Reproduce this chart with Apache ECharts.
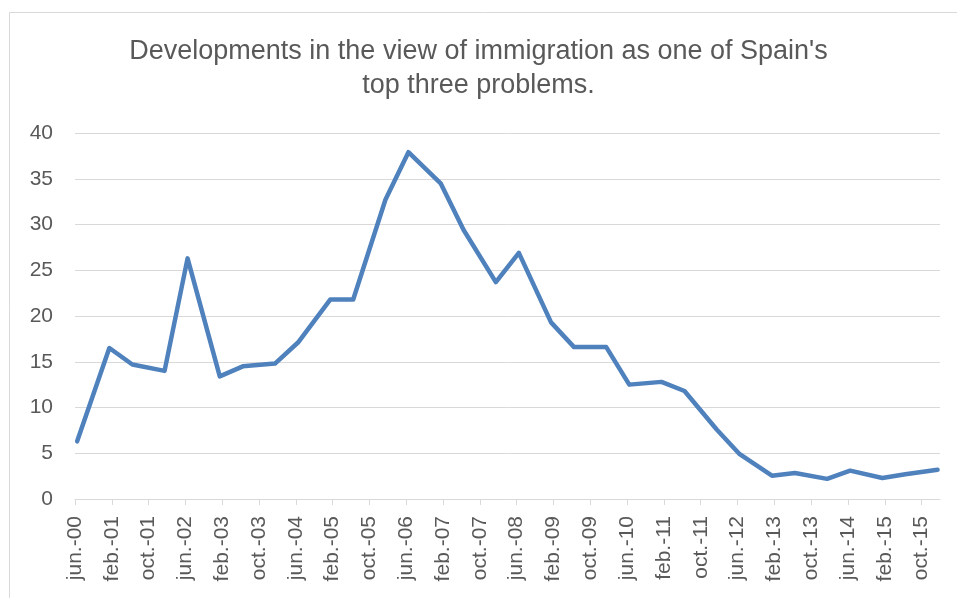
<!DOCTYPE html>
<html>
<head>
<meta charset="utf-8">
<script src="https://cdn.jsdelivr.net/npm/echarts@6/dist/echarts.min.js"></script>
<style>
html,body{margin:0;padding:0;background:#fff;}
#chart{width:957px;height:598px;}
</style>
</head>
<body>
<div id="chart"></div>
<script>
// Survey dates (mid-month) and share naming immigration as a top-3 problem (%)
const dates = [
  '2000-06-15','2001-01-15','2001-06-15','2002-01-15','2002-06-15','2003-01-15','2003-06-15','2004-01-15',
  '2004-06-15','2005-01-15','2005-06-15','2006-01-15','2006-06-15','2007-01-15','2007-06-15','2008-01-15',
  '2008-06-15','2009-01-15','2009-06-15','2010-01-15','2010-06-15','2011-01-15','2011-06-15','2012-01-15',
  '2012-06-15','2013-01-15','2013-06-15','2014-01-15','2014-06-15','2015-01-15','2015-06-15','2016-01-15'
];
const values = [
  6.3, 16.5, 14.7, 14.0, 26.3, 13.4, 14.5, 14.8,
  17.1, 21.8, 21.8, 32.7, 37.9, 34.5, 29.4, 23.7,
  26.9, 19.3, 16.6, 16.6, 12.5, 12.8, 11.8, 7.6,
  4.9, 2.55, 2.85, 2.2, 3.1, 2.3, 2.7, 3.2
];
const tickLabels = [
  'jun.-00','feb.-01','oct.-01','jun.-02','feb.-03','oct.-03','jun.-04','feb.-05',
  'oct.-05','jun.-06','feb.-07','oct.-07','jun.-08','feb.-09','oct.-09','jun.-10',
  'feb.-11','oct.-11','jun.-12','feb.-13','oct.-13','jun.-14','feb.-15','oct.-15'
];
const titleLines = ["Developments in the view of immigration as one of Spain's", "top three problems."];

// months since June 2000
function monthIndex(d) {
  const [y, m, day] = d.split('-').map(Number);
  return (y - 2000) * 12 + (m - 6) + (day - 1) / 30;
}
const TICK_STEP = 8;
const tickValues = tickLabels.map((_, i) => i * TICK_STEP);
const seriesData = dates.map((d, i) => [monthIndex(d), values[i]]);

const chart = echarts.init(document.getElementById('chart'), null, {renderer: 'canvas'});
const textColor = '#595959';
const gridColor = '#d9d9d9';
const titleStyle = {
  fontFamily: 'Liberation Sans', fontSize: 27, fontWeight: 'normal',
  color: textColor, lineHeight: 34
};
chart.setOption({
  backgroundColor: '#ffffff',
  animation: false,
  graphic: [{
    type: 'rect',
    shape: {x: 9.5, y: 12.5, width: 1000, height: 1000},
    style: {fill: 'none', stroke: gridColor, lineWidth: 1},
    silent: true, z: -1
  }],
  title: titleLines.map((t, i) => ({
    text: t,
    left: 'center',
    top: 35 + i * 34,
    padding: 0,
    textStyle: titleStyle
  })),
  grid: {left: 75, right: 17, top: 133, height: 366, containLabel: false},
  xAxis: {
    type: 'value',
    min: 0, max: 188,
    splitLine: {show: false},
    axisLine: {show: true, lineStyle: {color: gridColor, width: 1}},
    axisTick: {show: true, length: 6, lineStyle: {color: gridColor}, customValues: tickValues},
    axisLabel: {
      customValues: tickValues,
      rotate: 90,
      margin: 17,
      color: textColor,
      fontFamily: 'Liberation Sans',
      fontSize: 21,
      formatter: v => tickLabels[Math.round(v / TICK_STEP)] || ''
    }
  },
  yAxis: {
    type: 'value',
    min: 0, max: 40, interval: 5,
    axisLine: {show: false},
    axisTick: {show: false},
    splitLine: {show: true, lineStyle: {color: gridColor, width: 1}},
    axisLabel: {margin: 22, color: textColor, fontFamily: 'Liberation Sans', fontSize: 21}
  },
  series: [{
    type: 'line',
    data: seriesData,
    symbol: 'none',
    lineStyle: {color: '#4f81bd', width: 4.5, cap: 'round', join: 'round'},
    itemStyle: {color: '#4f81bd'}
  }]
});
</script>
</body>
</html>
